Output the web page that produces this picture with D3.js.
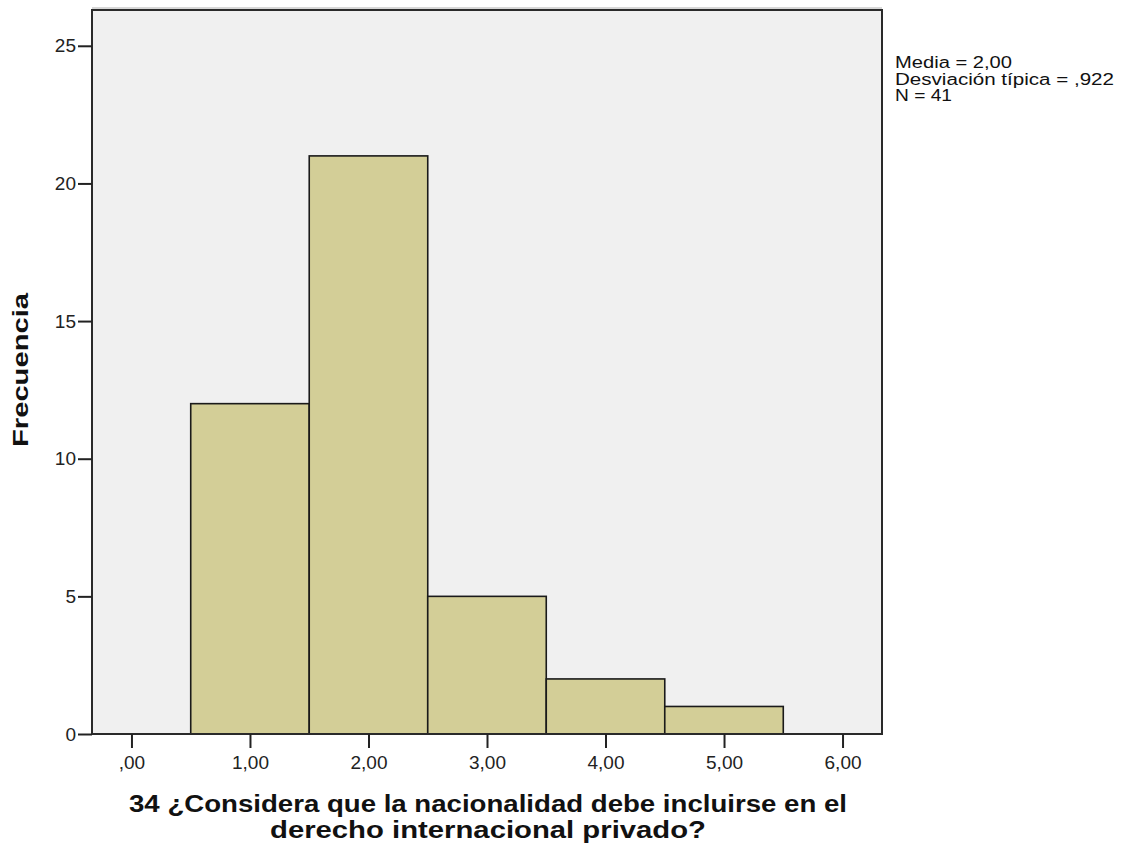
<!DOCTYPE html>
<html><head><meta charset="utf-8">
<script src="https://cdn.jsdelivr.net/npm/d3@7"></script>
<style>html,body{margin:0;padding:0;background:#fff;} svg{display:block;font-family:Arial,"Liberation Sans",sans-serif;}</style>
</head><body>
<svg id="c" width="1121" height="846"></svg>
<script>
// Data
const binStarts = [0.5, 1.5, 2.5, 3.5, 4.5];
const binEnds   = [1.5, 2.5, 3.5, 4.5, 5.5];
const counts    = [12, 21, 5, 2, 1];
const xTicks    = [0, 1, 2, 3, 4, 5, 6];
const yTicks    = [0, 5, 10, 15, 20, 25];
const xDomain   = [-0.333, 6.333];
const yDomain   = [0, 26.3];
const statLines = ["Media = 2,00", "Desviación típica = ,922", "N = 41"];
const yTitle    = "Frecuencia";
const xTitle    = ["34 ¿Considera que la nacionalidad debe incluirse en el", "derecho internacional privado?"];

const svg = d3.select("#c");
const L = 92, R = 882, T = 10, B = 734;
const x = d3.scaleLinear().domain(xDomain).range([L, R]);
const y = d3.scaleLinear().domain(yDomain).range([B, T]);

const fmt = v => { const s = d3.format(".2f")(v).replace(".", ","); return s.startsWith("0,") ? s.slice(1) : s; };

// plot background
svg.append("rect").attr("x", L).attr("y", T).attr("width", R - L).attr("height", B - T)
  .attr("fill", "#f0f0f0");

// bars
svg.append("g").selectAll("rect").data(counts).join("rect")
  .attr("x", (d, i) => x(binStarts[i]))
  .attr("y", d => y(d))
  .attr("width", (d, i) => x(binEnds[i]) - x(binStarts[i]))
  .attr("height", d => y(0) - y(d))
  .attr("fill", "#d3ce97")
  .attr("stroke", "#1a1a1a")
  .attr("stroke-width", 1.6);

// frame
svg.append("rect").attr("x", L).attr("y", T).attr("width", R - L).attr("height", B - T)
  .attr("fill", "none").attr("stroke", "#2a2a2a").attr("stroke-width", 2);
svg.append("line").attr("x1", L).attr("x2", R).attr("y1", T - 2).attr("y2", T - 2)
  .attr("stroke", "#b0b0b0").attr("stroke-width", 1);

// y axis
const ya = svg.append("g").attr("transform", `translate(${L},0)`)
  .call(d3.axisLeft(y).tickValues(yTicks).tickSize(14).tickPadding(2).tickFormat(d3.format("d")));
ya.select(".domain").remove();
ya.selectAll(".tick line").attr("stroke", "#222").attr("stroke-width", 2);
ya.selectAll(".tick text").attr("font-size", 19).attr("fill", "#222").attr("font-family", "Arial, 'Liberation Sans', sans-serif");

// x axis
const xa = svg.append("g").attr("transform", `translate(0,${B})`)
  .call(d3.axisBottom(x).tickValues(xTicks).tickSize(14).tickPadding(8).tickFormat(fmt));
xa.select(".domain").remove();
xa.selectAll(".tick line").attr("stroke", "#222").attr("stroke-width", 2);
xa.selectAll(".tick text").attr("font-size", 19).attr("fill", "#222").attr("font-family", "Arial, 'Liberation Sans', sans-serif");

// y title
svg.append("text").attr("transform", "translate(28,370) rotate(-90)")
  .attr("text-anchor", "middle").attr("font-weight", "bold").attr("font-size", 22)
  .attr("textLength", 154).attr("lengthAdjust", "spacingAndGlyphs")
  .attr("fill", "#111").text(yTitle);

// x title
const xtW = [718, 436];
svg.append("g").selectAll("text").data(xTitle).join("text")
  .attr("x", 488).attr("y", (d, i) => 812 + i * 25.5)
  .attr("text-anchor", "middle").attr("font-weight", "bold").attr("font-size", 23)
  .attr("textLength", (d, i) => xtW[i]).attr("lengthAdjust", "spacingAndGlyphs")
  .attr("fill", "#111").text(d => d);

// stats
const stW = [117, 219, 57];
svg.append("g").selectAll("text").data(statLines).join("text")
  .attr("x", 895).attr("y", (d, i) => 68 + i * 16.5)
  .attr("font-size", 16)
  .attr("textLength", (d, i) => stW[i]).attr("lengthAdjust", "spacingAndGlyphs")
  .attr("fill", "#111").text(d => d);
</script>
</body></html>
